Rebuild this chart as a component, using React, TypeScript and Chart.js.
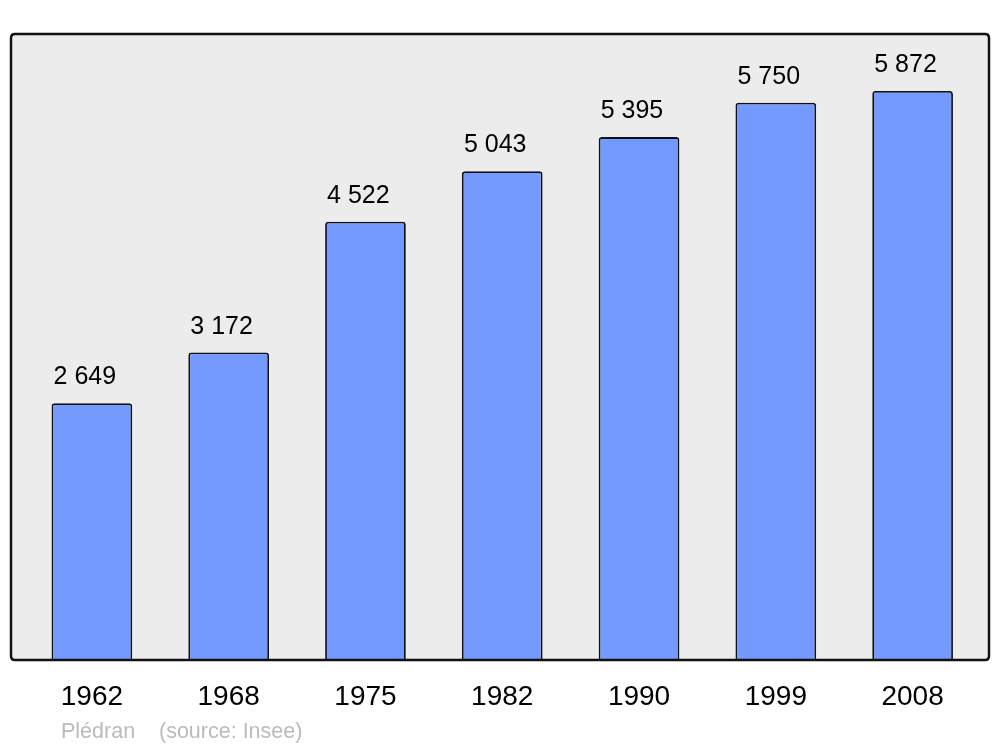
import React, { useEffect, useRef } from "react";
import { Chart, registerables } from "chart.js";

Chart.register(...registerables);

const years = ["1962", "1968", "1975", "1982", "1990", "1999", "2008"];
const population = [2649, 3172, 4522, 5043, 5395, 5750, 5872];
const valueLabels = ["2 649", "3 172", "4 522", "5 043", "5 395", "5 750", "5 872"];
const footerLeft = "Plédran";
const footerRight = "(source: Insee)";

const FONT = "'Liberation Sans', Arial, sans-serif";

function framePath(ctx: any, chartArea: any) {
  const x0 = chartArea.left - 12.5;
  const x1 = chartArea.right + 8;
  const y0 = chartArea.top;
  const y1 = chartArea.bottom;
  const r = 4;
  ctx.beginPath();
  ctx.moveTo(x0 + r, y0);
  ctx.lineTo(x1 - r, y0);
  ctx.quadraticCurveTo(x1, y0, x1, y0 + r);
  ctx.lineTo(x1, y1 - r);
  ctx.quadraticCurveTo(x1, y1, x1 - r, y1);
  ctx.lineTo(x0 + r, y1);
  ctx.quadraticCurveTo(x0, y1, x0, y1 - r);
  ctx.lineTo(x0, y0 + r);
  ctx.quadraticCurveTo(x0, y0, x0 + r, y0);
  ctx.closePath();
}

const framePlugin = {
  id: "frame",
  beforeDraw(chart: any) {
    const { ctx, chartArea } = chart;
    ctx.save();
    framePath(ctx, chartArea);
    ctx.fillStyle = "#ececec";
    ctx.fill();
    ctx.restore();
  },
  afterDatasetsDraw(chart: any) {
    const { ctx, chartArea } = chart;
    ctx.save();
    framePath(ctx, chartArea);
    ctx.lineWidth = 2.5;
    ctx.strokeStyle = "#111";
    ctx.stroke();

    // value labels
    const meta = chart.getDatasetMeta(0);
    ctx.fillStyle = "#000";
    ctx.font = `25px ${FONT}`;
    ctx.textAlign = "left";
    ctx.textBaseline = "alphabetic";
    meta.data.forEach((bar: any, i: number) => {
      const left = bar.x - bar.width / 2;
      ctx.fillText(valueLabels[i], left + 2, bar.y - 19);
    });

    // footer
    ctx.fillStyle = "#bbbbbb";
    ctx.font = `21.5px ${FONT}`;
    ctx.fillText(footerLeft, 61, 738);
    ctx.fillText(footerRight, 159, 738);
    ctx.restore();
  },
};

export default function App() {
  const ref = useRef<HTMLCanvasElement>(null);
  useEffect(() => {
    document.body.style.margin = "0";
    const chart = new Chart(ref.current!, {
      type: "bar",
      data: {
        labels: years,
        datasets: [
          {
            data: population,
            backgroundColor: "#7499ff",
            borderColor: "#111",
            borderWidth: 1.8,
            borderRadius: 3,
            borderSkipped: "bottom",
            categoryPercentage: 1,
            barPercentage: 0.59,
          },
        ],
      },
      options: {
        animation: false,
        responsive: false,
        devicePixelRatio: 1,
        layout: { padding: { left: 23.5, right: 19, top: 34, bottom: 37 } },
        plugins: { legend: { display: false }, tooltip: { enabled: false } },
        scales: {
          x: {
            grid: { display: false, drawTicks: false },
            border: { display: false },
            ticks: { color: "#000", font: { family: FONT, size: 28 }, padding: 20 },
            afterFit(scale: any) {
              scale.height = 50;
            },
          },
          y: { display: false, min: 0, max: 6459 },
        },
      },
      plugins: [framePlugin],
    });
    return () => chart.destroy();
  }, []);
  return (
    <div style={{ position: "absolute", left: 0, top: 0, width: 1000, height: 747, background: "#fff" }}>
      <canvas ref={ref} width={1000} height={747} />
    </div>
  );
}
